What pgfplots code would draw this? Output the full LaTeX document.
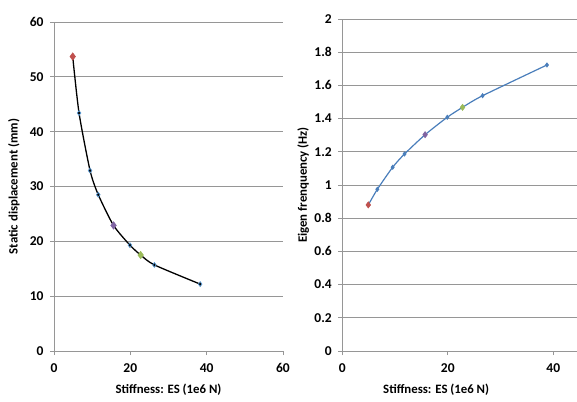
\documentclass[border=0pt]{standalone}
\usepackage{fontspec}
\setmainfont{Carlito}
\usepackage{pgfplots}
\pgfplotsset{compat=1.18}
\usepackage{xcolor}

\definecolor{exred}{HTML}{C0504D}
\definecolor{expurple}{HTML}{8064A2}
\definecolor{exgreen}{HTML}{9BBB59}
\definecolor{exblue}{HTML}{4A7EBB}
\definecolor{mkblue}{HTML}{5B9BD5}
\definecolor{gridgray}{HTML}{969696}

\pgfplotsset{
  exstyle/.style={
    scale only axis,
    anchor=south west,
    axis lines=left,
    axis line style={-, gridgray, line width=0.9pt},
    ymajorgrids,
    grid style={gridgray, line width=0.9pt},
    tick align=outside,
    major tick length=4pt,
    tick style={gridgray, line width=0.9pt},
    tick label style={font=\fontsize{13.5}{16}\selectfont\bfseries},
    label style={font=\fontsize{12.8}{15}\selectfont\bfseries},
    /pgf/number format/assume math mode=true,
    xticklabel style={yshift=-5pt},
    yticklabel style={xshift=-3pt},
    clip=false,
  },
}

\begin{document}
\begin{tikzpicture}
\useasboundingbox (0pt,0pt) rectangle (577pt,401pt);

% left chart: static displacement
\begin{axis}[exstyle,
  at={(54pt,50pt)},
  width=229pt, height=329pt,
  xmin=0, xmax=60, ymin=0, ymax=60,
  xtick={0,20,40,60}, ytick={0,10,...,60},
  xlabel={Stiffness: ES (1e6 N)},
  ylabel={Static displacement (mm)},
  xlabel style={at={(axis description cs:0.5,-0.119)}, anchor=center},
  ylabel style={at={(axis description cs:-0.175,0.5)}, anchor=center, rotate=0},
]
\addplot[black, line width=1.3pt, smooth, tension=0.4,
  mark=diamond*, mark size=2.4pt, mark options={fill=black, draw=mkblue, line width=0.7pt}]
  coordinates {
    (4.9,53.7) (6.56,43.4) (9.45,32.9) (11.6,28.5) (15.6,22.9)
    (19.9,19.3) (22.7,17.5) (26.3,15.7) (38.3,12.2)
  };
\addplot[only marks, mark=diamond*, mark size=3.8pt, exred, mark options={fill=exred, draw=exred}]
  coordinates {(4.9,53.7)};
\addplot[only marks, mark=diamond*, mark size=3.8pt, expurple, mark options={fill=expurple, draw=expurple}]
  coordinates {(15.6,22.9)};
\addplot[only marks, mark=diamond*, mark size=3.8pt, exgreen, mark options={fill=exgreen, draw=exgreen}]
  coordinates {(22.7,17.5)};
\end{axis}

% right chart: eigen frequency
\begin{axis}[exstyle,
  at={(342.3pt,50pt)},
  width=234.7pt, height=332pt,
  xmin=0, xmax=44.5, ymin=0, ymax=2,
  xtick={0,20,40}, ytick={0,0.2,...,2.01},
  xlabel={Stiffness: ES (1e6 N)},
  ylabel={Eigen frenquency (Hz)},
  xlabel style={at={(axis description cs:0.40,-0.117)}, anchor=center},
  ylabel style={at={(axis description cs:-0.167,0.5)}, anchor=center, rotate=0},
]
\addplot[exblue, line width=1.2pt, smooth, tension=0.4,
  mark=diamond*, mark size=1.7pt, mark options={fill=exblue, draw=exblue}]
  coordinates {
    (4.93,0.880) (6.64,0.974) (9.55,1.107) (11.8,1.187) (15.7,1.303)
    (19.9,1.408) (22.8,1.468) (26.6,1.538) (38.8,1.723)
  };
\addplot[only marks, mark=diamond*, mark size=3.2pt, exred, mark options={fill=exred, draw=exred}]
  coordinates {(4.93,0.880)};
\addplot[only marks, mark=diamond*, mark size=3.2pt, expurple, mark options={fill=expurple, draw=expurple}]
  coordinates {(15.7,1.303)};
\addplot[only marks, mark=diamond*, mark size=3.2pt, exgreen, mark options={fill=exgreen, draw=exgreen}]
  coordinates {(22.8,1.468)};
\end{axis}
\end{tikzpicture}
\end{document}
